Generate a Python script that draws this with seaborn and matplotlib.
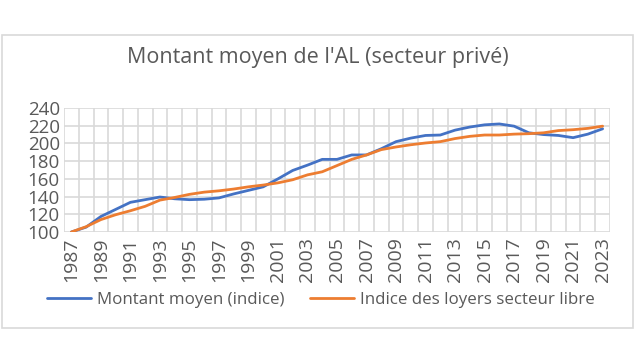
import seaborn as sns
import matplotlib.pyplot as plt
import pandas as pd
import numpy as np
from matplotlib.patches import Rectangle

# --- data ---
years = list(range(1987, 2024))
montant = [100, 105.5, 117.5, 125.5, 133.5, 136.5, 139.5, 137.5, 136.5, 137, 138.5, 143,
           147, 151, 160, 169.5, 175.5, 182, 182, 187, 187, 194, 202, 206, 209, 209.5,
           215, 218.5, 221, 222, 219.5, 212, 210, 209, 206.5, 210.5, 216.5]
loyers = [100, 106, 114, 119.5, 124, 129, 136, 139, 142.5, 145, 146.5, 148.5,
          151, 153, 155.5, 159, 164.5, 168, 175, 182, 187, 193, 196, 198.5, 200.5, 202,
          205.5, 208, 209.5, 209.5, 210.5, 211, 212, 214.5, 215.5, 217, 219.5]
series_names = ["Montant moyen (indice)", "Indice des loyers secteur libre"]
y_ticks = [100, 120, 140, 160, 180, 200, 220, 240]

df = pd.DataFrame({
    "annee": years * 2,
    "valeur": montant + loyers,
    "serie": [series_names[0]] * len(years) + [series_names[1]] * len(years),
})

sns.set_theme(style="white")
plt.rcParams['font.family'] = ['Open Sans', 'DejaVu Sans']
grey = "#595959"

fig = plt.figure(figsize=(6.36, 3.58), dpi=100)
ax = fig.add_axes([64 / 636, 1 - 232 / 358, 546 / 636, 124 / 358])

sns.lineplot(data=df, x="annee", y="valeur", hue="serie",
             palette=["#4472C4", "#ED7D31"], linewidth=2.0, ax=ax)

ax.set_xlim(years[0] - 0.5, years[-1] + 0.5)
ax.set_ylim(y_ticks[0], y_ticks[-1])
ax.set_yticks(y_ticks)
ax.set_xticks(years[::2])
ax.set_xticks(np.arange(years[0] - 0.5, years[-1] + 1), minor=True)
ax.set_xticklabels([str(y) for y in years[::2]], rotation=90)
ax.tick_params(axis='both', which='both', length=0, labelcolor=grey)
ax.tick_params(axis='x', pad=4, labelsize=14)
ax.tick_params(axis='y', pad=3, labelsize=13.5)
ax.grid(axis='y', which='major', color='#D9D9D9', linewidth=1.2)
ax.grid(axis='x', which='minor', color='#D9D9D9', linewidth=1.2)
ax.grid(axis='x', which='major', visible=False)
for s in ax.spines.values():
    s.set_visible(False)
ax.set_xlabel("")
ax.set_ylabel("")

handles, labels = ax.get_legend_handles_labels()
ax.get_legend().remove()
fig.legend(handles, labels, ncol=2, loc='center', bbox_to_anchor=(0.505, 1 - 300 / 358),
           frameon=False, fontsize=12.2, labelcolor=grey, handlelength=2.6,
           handletextpad=0.35, columnspacing=1.5)

fig.text(0.5, 1 - 57 / 358, "Montant moyen de l'AL (secteur privé)",
         ha='center', va='center', fontsize=15.5, color=grey)

fig.add_artist(Rectangle((2 / 636, 1 - 328 / 358), 631 / 636, 293 / 358,
                         transform=fig.transFigure, fill=False,
                         edgecolor='#D9D9D9', linewidth=1.2))

plt.savefig("out.png", dpi=100)
